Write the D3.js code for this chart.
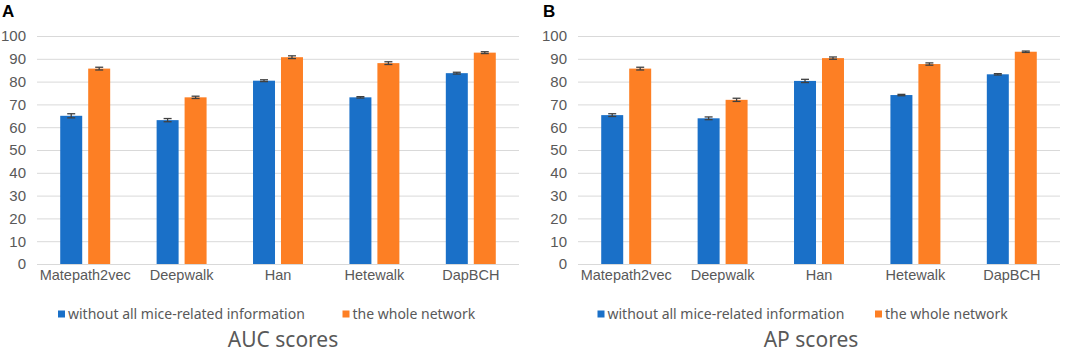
<!DOCTYPE html>
<html>
<head>
  <meta charset="utf-8">
  <title>auc-ap-bars</title>
  <style>
    body { margin: 0; background: #fff; }
    svg { font-family: "Noto Sans", "Open Sans", sans-serif; }
    .tick text { fill: #595959; }
  </style>
  <script src="https://cdn.jsdelivr.net/npm/d3@7"></script>
</head>
<body>
<script>

  // data
  var methods = ["Matepath2vec", "Deepwalk", "Han", "Hetewalk", "DapBCH"];
  var seriesNames = ["without all mice-related information", "the whole network"];
  var yTicks = [0, 10, 20, 30, 40, 50, 60, 70, 80, 90, 100];

  var aucWithout = [65.0, 63.1, 80.4, 73.1, 83.7];
  var aucWhole   = [85.7, 73.1, 90.7, 88.1, 92.7];
  var aucErrWithout = [0.9, 0.7, 0.4, 0.3, 0.4];
  var aucErrWhole   = [0.6, 0.5, 0.6, 0.6, 0.4];

  var apWithout = [65.3, 63.9, 80.3, 74.1, 83.2];
  var apWhole   = [85.7, 72.0, 90.3, 87.7, 93.1];
  var apErrWithout = [0.6, 0.6, 0.7, 0.3, 0.3];
  var apErrWhole   = [0.6, 0.7, 0.5, 0.5, 0.3];

  var colors = ["#1a70c8", "#fd7f24"];

  var svg = d3.select("body").append("svg")
    .attr("width", 1065)
    .attr("height", 353);

  function panel(opt) {
    var g = svg.append("g");

    var y = d3.scaleLinear().domain([0, 100]).range([264, 36]);
    var x = d3.scaleBand().domain(methods).range([opt.left, opt.right]).padding(0);
    var xs = d3.scaleBand().domain([0, 1]).range([0, x.bandwidth()])
      .paddingInner(0.214).paddingOuter(0.83);

    // gridlines
    g.selectAll(".grid").data(yTicks).enter().append("line")
      .attr("x1", opt.left).attr("x2", opt.right)
      .attr("y1", function(d) { return y(d) + 0.5; })
      .attr("y2", function(d) { return y(d) + 0.5; })
      .attr("stroke", "#d9d9d9").attr("stroke-width", 1);

    // y axis labels
    var ya = g.append("g")
      .attr("transform", "translate(" + (opt.left - 11) + ",0)")
      .call(d3.axisLeft(y).tickValues(yTicks).tickSize(0).tickPadding(0));
    ya.select(".domain").remove();
    ya.selectAll("text").style("font-size", "15px").attr("fill", "#595959");

    // bars
    var rows = methods.map(function(m, i) {
      return [
        {m: m, s: 0, v: opt.without[i], e: opt.errWithout[i]},
        {m: m, s: 1, v: opt.whole[i], e: opt.errWhole[i]}
      ];
    });
    var grp = g.selectAll(".grp").data(rows).enter().append("g")
      .attr("transform", function(d) { return "translate(" + x(d[0].m) + ",0)"; });

    grp.selectAll("rect").data(function(d) { return d; }).enter().append("rect")
      .attr("x", function(d) { return xs(d.s); })
      .attr("y", function(d) { return y(d.v); })
      .attr("width", xs.bandwidth())
      .attr("height", function(d) { return y(0) - y(d.v); })
      .attr("fill", function(d) { return colors[d.s]; });

    // error bars
    var eb = grp.selectAll(".err").data(function(d) { return d; }).enter().append("g")
      .attr("stroke", "#404040").attr("stroke-width", 1.3);
    eb.append("line")
      .attr("x1", function(d) { return xs(d.s) + xs.bandwidth() / 2; })
      .attr("x2", function(d) { return xs(d.s) + xs.bandwidth() / 2; })
      .attr("y1", function(d) { return y(d.v + d.e); })
      .attr("y2", function(d) { return y(d.v - d.e); });
    [1, -1].forEach(function(sg) {
      eb.append("line")
        .attr("x1", function(d) { return xs(d.s) + xs.bandwidth() / 2 - 4; })
        .attr("x2", function(d) { return xs(d.s) + xs.bandwidth() / 2 + 4; })
        .attr("y1", function(d) { return y(d.v + sg * d.e); })
        .attr("y2", function(d) { return y(d.v + sg * d.e); });
    });

    // x axis labels
    var xa = g.append("g")
      .attr("transform", "translate(0,266)")
      .call(d3.axisBottom(x).tickSize(0).tickPadding(4));
    xa.select(".domain").remove();
    xa.selectAll("text").style("font-size", "14.5px").attr("fill", "#595959");

    // legend
    var lg = g.selectAll(".leg").data(seriesNames).enter().append("g")
      .attr("transform", function(d, i) { return "translate(" + opt.legendX[i] + ",0)"; });
    lg.append("rect").attr("x", 0).attr("y", 310.5).attr("width", 7).attr("height", 7)
      .attr("fill", function(d, i) { return colors[i]; });
    lg.append("text").attr("x", 10).attr("y", 319)
      .style("font-size", "14px").attr("fill", "#595959")
      .text(function(d) { return d; });

    // title
    g.append("text").attr("x", opt.titleX).attr("y", 347)
      .attr("text-anchor", "middle")
      .style("font-size", "21px").attr("fill", "#595959")
      .text(opt.title);

    // panel letter
    g.append("text").attr("x", opt.letterX).attr("y", 17)
      .style("font-family", "Liberation Sans, Arial, sans-serif")
      .style("font-size", "17px").style("font-weight", "bold").attr("fill", "#000")
      .text(opt.letter);
  }

  panel({
    left: 37, right: 519, letter: "A", letterX: 2, title: "AUC scores", titleX: 283,
    legendX: [58, 342.5],
    without: aucWithout, whole: aucWhole, errWithout: aucErrWithout, errWhole: aucErrWhole
  });

  panel({
    left: 578, right: 1060, letter: "B", letterX: 543, title: "AP scores", titleX: 811,
    legendX: [597.5, 875],
    without: apWithout, whole: apWhole, errWithout: apErrWithout, errWhole: apErrWhole
  });

</script>
</body>
</html>
